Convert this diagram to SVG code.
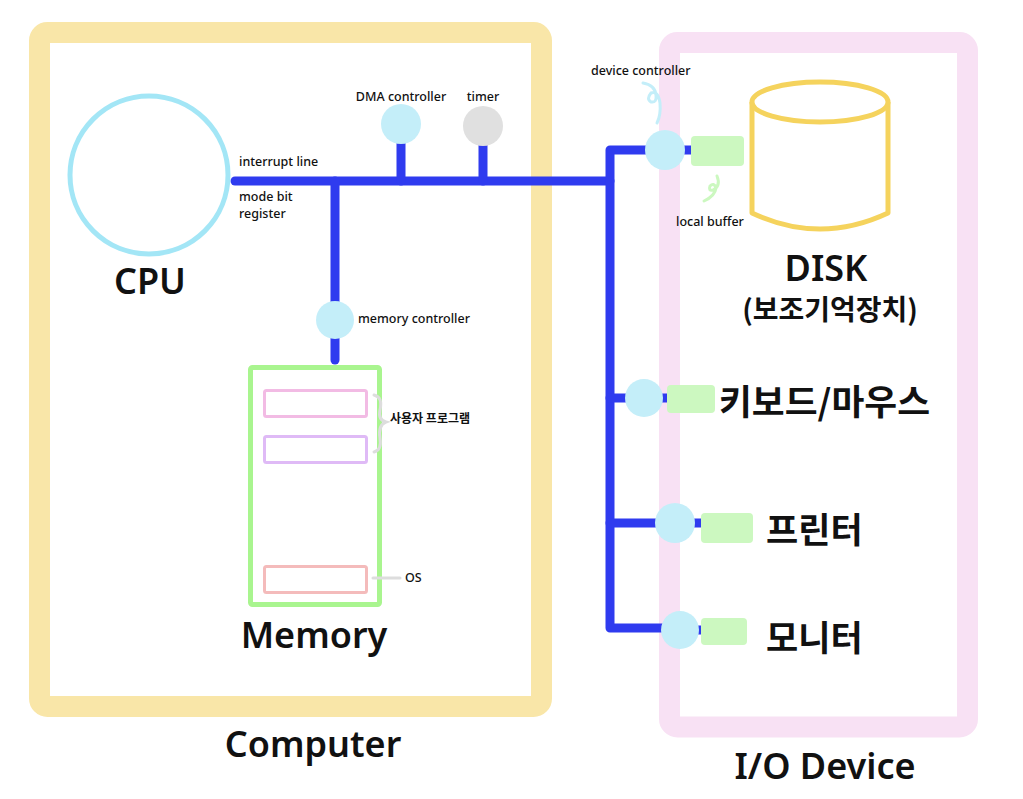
<svg xmlns="http://www.w3.org/2000/svg" width="1023" height="799" viewBox="0 0 1023 799">
<style>
  text { font-family: "Noto Sans", "Noto Sans CJK KR", sans-serif; fill: #111; }
  .big { font-size: 36px; font-weight: 600; }
  .kor { font-size: 35px; font-weight: 700; font-family: "Noto Sans CJK KR", "Noto Sans", sans-serif; }
  .small { font-size: 12.5px; font-weight: 500; }
  .bus { stroke: #2f3bef; stroke-width: 9; fill: none; stroke-linecap: round; stroke-linejoin: round; }
  .ctrl { fill: #c4eef9; }
  .buf { fill: #ccf8c0; }
</style>
<rect width="1023" height="799" fill="#ffffff"/>

<g id="computer">
  <rect x="39.5" y="32.5" width="502" height="674" rx="8" fill="#ffffff" stroke="#f9e6a8" stroke-width="21"/>
  <text class="big" x="313" y="757" text-anchor="middle">Computer</text>
</g>

<g id="io-device">
  <rect x="669.5" y="42.5" width="298" height="684.5" rx="8" fill="#ffffff" stroke="#f8e1f4" stroke-width="21"/>
  <text class="big" x="825" y="779" text-anchor="middle">I/O Device</text>
</g>

<g id="connectors">
  <path class="bus" d="M235 181 H610"/>
  <path class="bus" d="M335 181 V360"/>
  <path class="bus" d="M401 125 V181"/>
  <path class="bus" d="M483 125 V181"/>
  <path class="bus" d="M662 150 H610 V628 H680"/>
  <path class="bus" d="M610 398 H645"/>
  <path class="bus" d="M610 523 H675"/>
  <path class="bus" d="M665 150 H693"/>
  <path class="bus" d="M644 398 H670"/>
  <path class="bus" d="M675 523 H703"/>
  <path class="bus" d="M680 630 H703"/>
</g>

<g id="cpu">
  <circle cx="149" cy="175" r="79" fill="none" stroke="#a3e6f6" stroke-width="5"/>
  <text class="big" x="150" y="294" text-anchor="middle">CPU</text>
  <text class="small" x="239" y="166">interrupt line</text>
  <text class="small" x="239" y="201">mode bit</text>
  <text class="small" x="239" y="218">register</text>
</g>

<g id="dma-controller">
  <circle class="ctrl" cx="401" cy="124" r="20"/>
  <text class="small" x="401" y="101" text-anchor="middle">DMA controller</text>
</g>

<g id="timer">
  <circle cx="483" cy="126" r="20" fill="#e0e0e0"/>
  <text class="small" x="483" y="101" text-anchor="middle">timer</text>
</g>

<g id="memory-controller">
  <circle class="ctrl" cx="335" cy="320" r="19"/>
  <text class="small" x="358" y="323">memory controller</text>
</g>

<g id="memory">
  <rect x="250.5" y="367.5" width="129" height="237" rx="2" fill="none" stroke="#a9f58f" stroke-width="5"/>
  <rect x="264.5" y="390.5" width="102" height="26" rx="2" fill="none" stroke="#f2bbe4" stroke-width="3"/>
  <rect x="264.5" y="436.5" width="102" height="26" rx="2" fill="none" stroke="#dfbaf6" stroke-width="3"/>
  <rect x="264.5" y="566.5" width="102" height="26" rx="2" fill="none" stroke="#f4bbbb" stroke-width="3"/>
  <path d="M374 395 Q383 397 380 410 Q378 420 386 422 Q378 425 380 438 Q382 450 374 452" fill="none" stroke="#dddddd" stroke-width="3" stroke-linecap="round"/>
  <text class="small" x="390" y="423" style="font-family:'Noto Sans CJK KR',sans-serif;font-weight:700;font-size:12px">사용자 프로그램</text>
  <line x1="373" y1="578" x2="400" y2="578" stroke="#dddddd" stroke-width="3" stroke-linecap="round"/>
  <text class="small" x="405" y="582">OS</text>
  <text class="big" x="314" y="648" text-anchor="middle">Memory</text>
</g>

<g id="disk">
  <circle class="ctrl" cx="665" cy="150" r="20"/>
  <rect class="buf" x="691" y="136" width="53" height="30" rx="4"/>
  <path d="M643 83 Q655 85 656 95 Q657 103 651 102 Q646 99 651 93 Q658 90 660 103 Q661 115 657 123" fill="none" stroke="#c4eef9" stroke-width="3" stroke-linecap="round"/>
  <text class="small" x="591" y="75">device controller</text>
  <path d="M717 176 Q721 186 713 190 Q708 191 710 186 Q714 182 716 188 Q715 196 704 201" fill="none" stroke="#ccf8c0" stroke-width="3" stroke-linecap="round"/>
  <text class="small" x="676" y="226">local buffer</text>
  <path d="M752 102 V213 Q820 245 888 213 V102" fill="#ffffff" stroke="#f5d35d" stroke-width="5" stroke-linejoin="round"/>
  <ellipse cx="820" cy="102" rx="68" ry="20" fill="#ffffff" stroke="#f5d35d" stroke-width="5"/>
  <text class="big" x="826" y="281" text-anchor="middle">DISK</text>
  <text class="kor" x="830" y="320" text-anchor="middle" style="font-size:28px">(보조기억장치)</text>
</g>

<g id="keyboard-mouse">
  <circle class="ctrl" cx="644" cy="398" r="19"/>
  <rect class="buf" x="667" y="385" width="48" height="28" rx="4"/>
  <text class="kor" x="719" y="415" textLength="211" lengthAdjust="spacingAndGlyphs">키보드/마우스</text>
</g>

<g id="printer">
  <circle class="ctrl" cx="675" cy="523" r="20"/>
  <rect class="buf" x="701" y="513" width="52" height="30" rx="4"/>
  <text class="kor" x="766" y="543">프린터</text>
</g>

<g id="monitor">
  <circle class="ctrl" cx="680" cy="630" r="19"/>
  <rect class="buf" x="701" y="618" width="46" height="27" rx="4"/>
  <text class="kor" x="766" y="651">모니터</text>
</g>
</svg>
